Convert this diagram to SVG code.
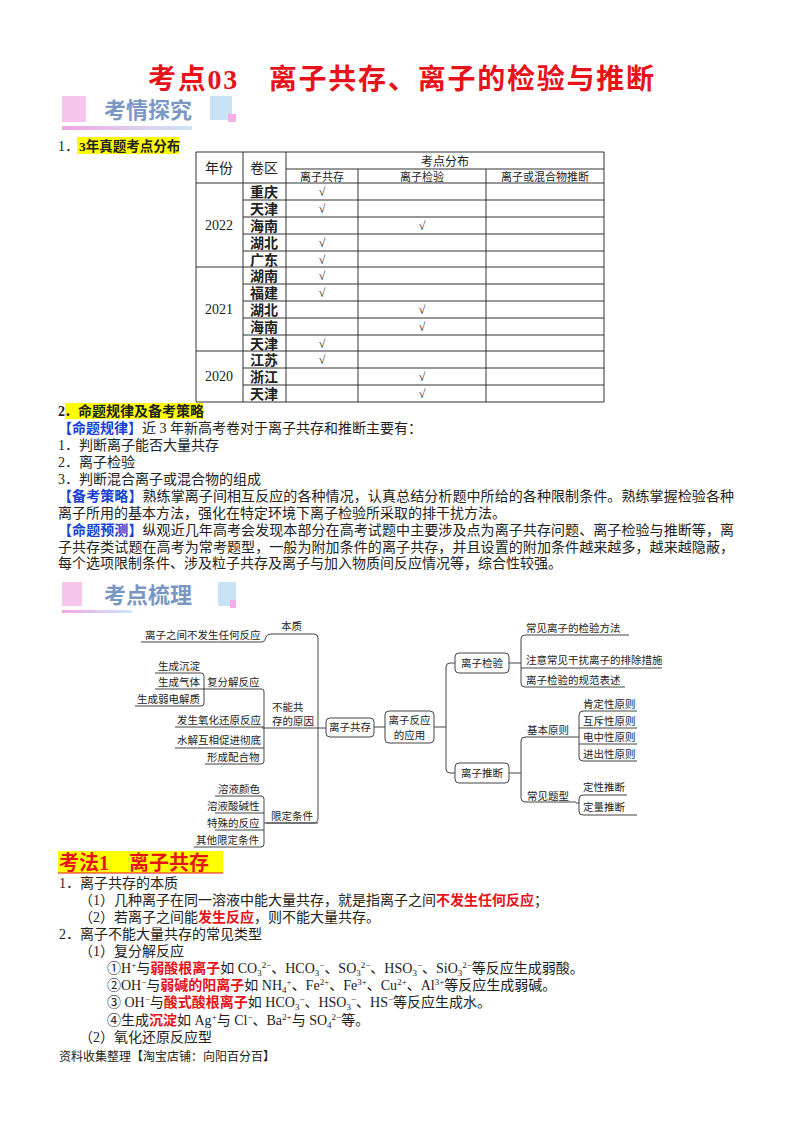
<svg xmlns="http://www.w3.org/2000/svg" width="800" height="1132" viewBox="0 0 800 1132">
<defs>
<linearGradient id="bar" x1="0" x2="1"><stop offset="0" stop-color="#f0a8e0"/><stop offset="1" stop-color="#cfe6f7"/></linearGradient>
</defs>
<style>
text{font-family:"Liberation Serif","Noto Sans CJK SC",serif;fill:#222;font-size:14px}
.b{font-weight:bold}
.r{fill:#e8121a;font-weight:bold}
.bl{fill:#1a3fd6;font-weight:bold}
.tb line{stroke:#333;stroke-width:1}
.ck{font-size:12px;text-anchor:middle}
.m text{font-size:10.5px}
.m path,.m line{stroke:#444;stroke-width:1;fill:none}
.m rect{fill:#fff;stroke:#444;stroke-width:1}
.ban{font-family:"Noto Sans CJK SC",sans-serif;font-weight:bold;font-size:22px;fill:#7a97c4}
.sp{font-size:9px}
</style>
<rect width="800" height="1132" fill="#fff"/>
<text x="401" y="89" text-anchor="middle" class="r" style="font-size:28px" textLength="506" lengthAdjust="spacing">考点03　离子共存、离子的检验与推断</text>

<g id="banner1">
<rect x="62" y="96" width="24" height="26" fill="#f2b6e6" opacity="0.8"/>
<rect x="210" y="96" width="22" height="24" fill="#c8e2f6"/>
<rect x="228" y="114" width="8" height="8" fill="#f0b0e8"/>
<rect x="62" y="126" width="130" height="4" fill="url(#bar)"/>
<text x="104" y="118" class="ban">考情探究</text>
</g>

<text x="58" y="151">1．</text>
<rect x="77" y="137" width="102" height="17" fill="#ffff00"/>
<text x="79" y="151" class="b" style="font-size:13.5px">3年真题考点分布</text>

<g id="table" class="tb">
<line x1="196" y1="152" x2="604" y2="152"/>
<line x1="286" y1="169" x2="604" y2="169"/>
<line x1="196" y1="183" x2="604" y2="183"/>
<line x1="243" y1="200" x2="604" y2="200"/><line x1="243" y1="217" x2="604" y2="217"/><line x1="243" y1="234" x2="604" y2="234"/><line x1="243" y1="251" x2="604" y2="251"/>
<line x1="196" y1="267" x2="604" y2="267"/>
<line x1="243" y1="284" x2="604" y2="284"/><line x1="243" y1="301" x2="604" y2="301"/><line x1="243" y1="318" x2="604" y2="318"/><line x1="243" y1="335" x2="604" y2="335"/>
<line x1="196" y1="351" x2="604" y2="351"/>
<line x1="243" y1="368" x2="604" y2="368"/><line x1="243" y1="385" x2="604" y2="385"/>
<line x1="196" y1="402" x2="604" y2="402"/>
<line x1="196" y1="152" x2="196" y2="402"/><line x1="243" y1="152" x2="243" y2="402"/><line x1="286" y1="152" x2="286" y2="402"/><line x1="358" y1="169" x2="358" y2="402"/><line x1="486" y1="169" x2="486" y2="402"/><line x1="604" y1="152" x2="604" y2="402"/>
<text x="219" y="173" text-anchor="middle">年份</text>
<text x="264" y="173" text-anchor="middle">卷区</text>
<text x="445" y="166" text-anchor="middle" style="font-size:12px">考点分布</text>
<text x="322" y="181" text-anchor="middle" style="font-size:11px">离子共存</text>
<text x="422" y="181" text-anchor="middle" style="font-size:11px">离子检验</text>
<text x="545" y="181" text-anchor="middle" style="font-size:11px">离子或混合物推断</text>
<text x="219" y="230" text-anchor="middle">2022</text>
<text x="219" y="314" text-anchor="middle">2021</text>
<text x="219" y="381" text-anchor="middle">2020</text>
<g class="b"><text x="250" y="197">重庆</text><text x="250" y="214">天津</text><text x="250" y="231">海南</text><text x="250" y="248">湖北</text><text x="250" y="265">广东</text><text x="250" y="281">湖南</text><text x="250" y="298">福建</text><text x="250" y="315">湖北</text><text x="250" y="332">海南</text><text x="250" y="349">天津</text><text x="250" y="365">江苏</text><text x="250" y="382">浙江</text><text x="250" y="399">天津</text></g>
<text x="322" y="196" class="ck">√</text><text x="322" y="213" class="ck">√</text><text x="422" y="230" class="ck">√</text><text x="322" y="247" class="ck">√</text><text x="322" y="264" class="ck">√</text><text x="322" y="280" class="ck">√</text><text x="322" y="297" class="ck">√</text><text x="422" y="314" class="ck">√</text><text x="422" y="331" class="ck">√</text><text x="322" y="348" class="ck">√</text><text x="322" y="364" class="ck">√</text><text x="422" y="381" class="ck">√</text><text x="422" y="398" class="ck">√</text>
</g>

<text x="58" y="416" class="b">2</text>
<rect x="65" y="403" width="138" height="16" fill="#ffff00"/>
<text x="64" y="416" class="b">．命题规律及备考策略</text>
<text x="58" y="433"><tspan class="bl">【命题规律】</tspan>近 3 年新高考卷对于离子共存和推断主要有：</text>
<text x="58" y="450">1．判断离子能否大量共存</text>
<text x="58" y="467">2．离子检验</text>
<text x="58" y="484">3．判断混合离子或混合物的组成</text>
<text x="58" y="501" textLength="676" lengthAdjust="spacing"><tspan class="bl">【备考策略】</tspan>熟练掌离子间相互反应的各种情况，认真总结分析题中所给的各种限制条件。熟练掌握检验各种</text>
<text x="58" y="518">离子所用的基本方法，强化在特定环境下离子检验所采取的排干扰方法。</text>
<text x="58" y="535" textLength="676" lengthAdjust="spacing"><tspan class="bl">【命题预测】</tspan>纵观近几年高考会发现本部分在高考试题中主要涉及点为离子共存问题、离子检验与推断等，离</text>
<text x="58" y="552" textLength="676" lengthAdjust="spacing">子共存类试题在高考为常考题型，一般为附加条件的离子共存，并且设置的附加条件越来越多，越来越隐蔽，</text>
<text x="58" y="568">每个选项限制条件、涉及粒子共存及离子与加入物质间反应情况等，综合性较强。</text>

<g id="banner2">
<rect x="62" y="582" width="20" height="24" fill="#f2b6e6" opacity="0.8"/>
<rect x="218" y="582" width="18" height="24" fill="#c8e2f6"/>
<rect x="230" y="600" width="6" height="8" fill="#f0b0e8"/>
<rect x="62" y="610" width="70" height="3" fill="url(#bar)"/>
<text x="104" y="603" class="ban">考点梳理</text>
</g>

<g class="m">
<g id="connectors">
<path d="M141 642 H262 Q265 642 266 637 Q267 634 271 634 H314 Q318 634 318 638 V818 Q318 823 314 823 H266"/>
<line x1="262" y1="728" x2="326" y2="728"/>
<path d="M203 689 H262 Q264 689 264 692 V761 Q264 764 261 764 H205"/>
<line x1="175" y1="727" x2="264" y2="727"/>
<line x1="175" y1="748" x2="264" y2="748"/>
<path d="M155 673 H201 Q204 673 204 676 V703 Q204 706 201 706 H135"/>
<line x1="155" y1="689" x2="204" y2="689"/>
<path d="M215 796 H261 Q264 796 264 799 V844 Q264 847 261 847 H194"/>
<line x1="215" y1="813" x2="264" y2="813"/>
<line x1="215" y1="830" x2="264" y2="830"/>
<line x1="264" y1="823" x2="318" y2="823"/>
<line x1="374" y1="727" x2="385" y2="727"/>
<path d="M434 727 H446 M455 663 H450 Q446 663 446 667 V769 Q446 773 450 773 H455"/>
<path d="M509 663 H521 M629 635 H525 Q521 635 521 639 V683 Q521 687 525 687 H625"/>
<line x1="521" y1="668" x2="662" y2="668"/>
<path d="M509 773 H521 M576 737 H525 Q521 737 521 741 V798 Q521 802 525 802 H576"/>
<path d="M637 711 H583 Q579 711 579 715 V757 Q579 761 583 761 H637"/>
<line x1="579" y1="728" x2="637" y2="728"/>
<line x1="579" y1="744" x2="637" y2="744"/>
<line x1="576" y1="737" x2="579" y2="737"/>
<path d="M627 795 H583 Q579 795 579 799 V811 Q579 815 583 815 H637"/>
<line x1="576" y1="803" x2="579" y2="803"/>
</g>
<g id="n-center"><rect x="326" y="718" width="48" height="19" rx="4"/><text x="350" y="731" text-anchor="middle">离子共存</text></g>
<g id="n-app"><rect x="385" y="711" width="49" height="32" rx="4"/><text x="409.5" y="724" text-anchor="middle">离子反应</text><text x="409.5" y="739" text-anchor="middle">的应用</text></g>
<g id="n-jy"><rect x="455" y="653" width="54" height="20" rx="4"/><text x="482" y="667" text-anchor="middle">离子检验</text></g>
<g id="n-tl"><rect x="455" y="763" width="54" height="20" rx="4"/><text x="482" y="777" text-anchor="middle">离子推断</text></g>
<g id="labels-left">
<text x="281" y="630">本质</text>
<text x="145" y="639">离子之间不发生任何反应</text>
<text x="158" y="670">生成沉淀</text>
<text x="158" y="686">生成气体</text>
<text x="137" y="703">生成弱电解质</text>
<text x="207" y="686">复分解反应</text>
<text x="272" y="711">不能共</text>
<text x="272" y="725">存的原因</text>
<text x="177" y="724">发生氧化还原反应</text>
<text x="177" y="744">水解互相促进彻底</text>
<text x="207" y="761">形成配合物</text>
<text x="218" y="793">溶液颜色</text>
<text x="207" y="810">溶液酸碱性</text>
<text x="207" y="827">特殊的反应</text>
<text x="196" y="844">其他限定条件</text>
<text x="271" y="820">限定条件</text>
</g>
<g id="labels-right">
<text x="526" y="632">常见离子的检验方法</text>
<text x="526" y="664">注意常见干扰离子的排除措施</text>
<text x="526" y="684">离子检验的规范表述</text>
<text x="527" y="734">基本原则</text>
<text x="583" y="708">肯定性原则</text>
<text x="583" y="725">互斥性原则</text>
<text x="583" y="741">电中性原则</text>
<text x="583" y="758">进出性原则</text>
<text x="527" y="800">常见题型</text>
<text x="583" y="791">定性推断</text>
<text x="583" y="811">定量推断</text>
</g>
</g>

<rect x="58" y="851" width="165" height="22" fill="#ffff00"/>
<line x1="58" y1="873" x2="223" y2="873" stroke="#e8121a" stroke-width="1.2"/>
<text x="59" y="870" class="r" style="font-size:20px">考法1　离子共存</text>
<text x="59" y="888">1．离子共存的本质</text>
<text x="79" y="905">（1）几种离子在同一溶液中能大量共存，就是指离子之间<tspan class="r">不发生任何反应</tspan>；</text>
<text x="79" y="922">（2）若离子之间能<tspan class="r">发生反应</tspan>，则不能大量共存。</text>
<text x="59" y="939">2．离子不能大量共存的常见类型</text>
<text x="79" y="956">（1）复分解反应</text>
<text x="107" y="973">①H<tspan class="sp" dy="-5">+</tspan><tspan dy="5">与</tspan><tspan class="r">弱酸根离子</tspan>如 CO<tspan class="sp" dy="3">3</tspan><tspan class="sp" dy="-8">2−</tspan><tspan dy="5">、HCO</tspan><tspan class="sp" dy="3">3</tspan><tspan class="sp" dy="-8">−</tspan><tspan dy="5">、SO</tspan><tspan class="sp" dy="3">3</tspan><tspan class="sp" dy="-8">2−</tspan><tspan dy="5">、HSO</tspan><tspan class="sp" dy="3">3</tspan><tspan class="sp" dy="-8">−</tspan><tspan dy="5">、SiO</tspan><tspan class="sp" dy="3">3</tspan><tspan class="sp" dy="-8">2−</tspan><tspan dy="5">等反应生成弱酸。</tspan></text>
<text x="107" y="990">②OH<tspan class="sp" dy="-5">−</tspan><tspan dy="5">与</tspan><tspan class="r">弱碱的阳离子</tspan>如 NH<tspan class="sp" dy="3">4</tspan><tspan class="sp" dy="-8">+</tspan><tspan dy="5">、Fe</tspan><tspan class="sp" dy="-5">2+</tspan><tspan dy="5">、Fe</tspan><tspan class="sp" dy="-5">3+</tspan><tspan dy="5">、Cu</tspan><tspan class="sp" dy="-5">2+</tspan><tspan dy="5">、Al</tspan><tspan class="sp" dy="-5">3+</tspan><tspan dy="5">等反应生成弱碱。</tspan></text>
<text x="107" y="1007">③ OH<tspan class="sp" dy="-5">−</tspan><tspan dy="5">与</tspan><tspan class="r">酸式酸根离子</tspan>如 HCO<tspan class="sp" dy="3">3</tspan><tspan class="sp" dy="-8">−</tspan><tspan dy="5">、HSO</tspan><tspan class="sp" dy="3">3</tspan><tspan class="sp" dy="-8">−</tspan><tspan dy="5">、HS</tspan><tspan class="sp" dy="-5">−</tspan><tspan dy="5">等反应生成水。</tspan></text>
<text x="107" y="1025">④生成<tspan class="r">沉淀</tspan>如 Ag<tspan class="sp" dy="-5">+</tspan><tspan dy="5">与 Cl</tspan><tspan class="sp" dy="-5">−</tspan><tspan dy="5">、Ba</tspan><tspan class="sp" dy="-5">2+</tspan><tspan dy="5">与 SO</tspan><tspan class="sp" dy="3">4</tspan><tspan class="sp" dy="-8">2−</tspan><tspan dy="5">等。</tspan></text>
<text x="79" y="1042">（2）氧化还原反应型</text>
<text x="59" y="1061" style="font-size:12px">资料收集整理【淘宝店铺：向阳百分百】</text>
</svg>
